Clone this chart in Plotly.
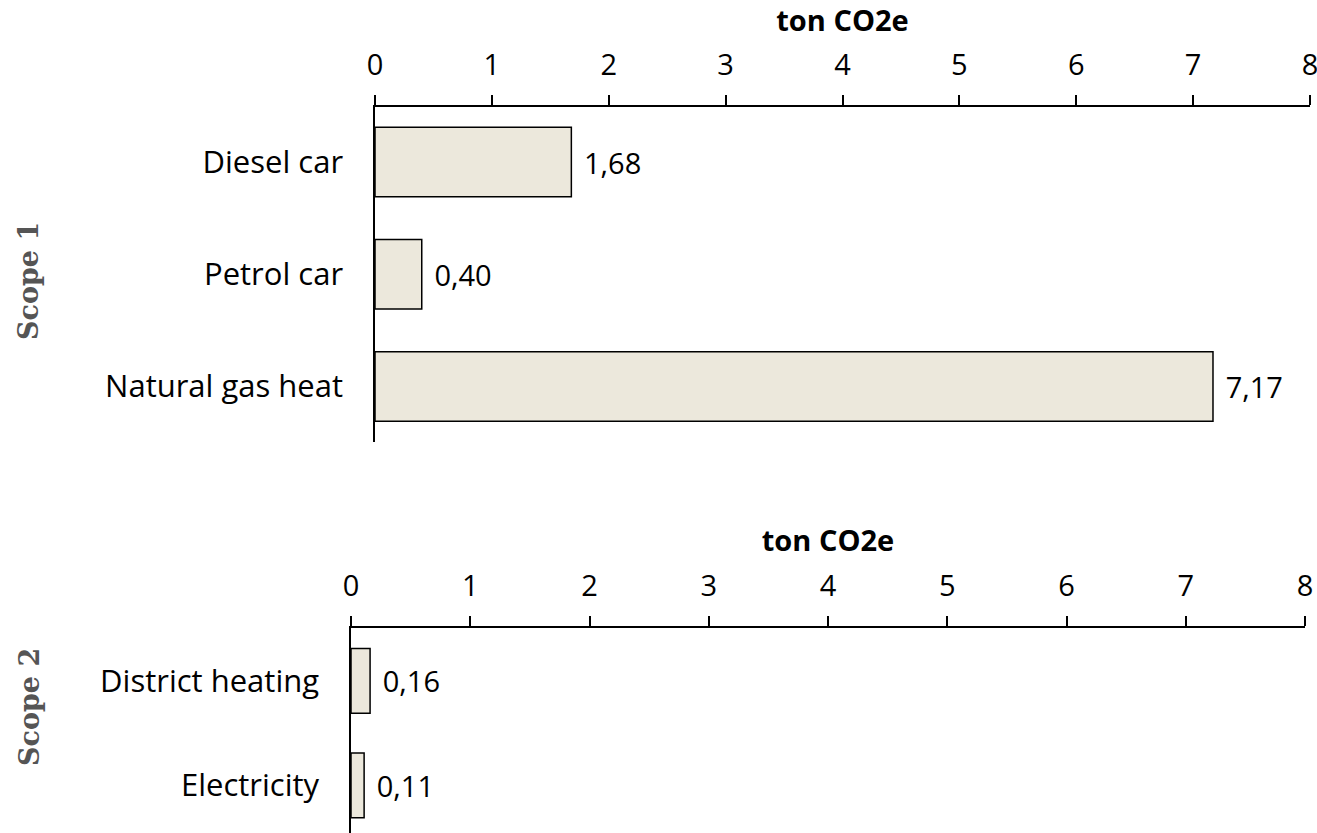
import plotly.graph_objects as go

scope1_cats = ["Diesel car", "Petrol car", "Natural gas heat"]
scope1_vals = [1.68, 0.40, 7.17]
scope2_cats = ["District heating", "Electricity"]
scope2_vals = [0.16, 0.11]
x_ticks = [0, 1, 2, 3, 4, 5, 6, 7, 8]
axis_title = "ton CO2e"
group_labels = ["Scope 1", "Scope 2"]

W, H = 1317, 833
FONT = "Open Sans"
BAR_COLOR = "#ECE8DC"
FS = 29

fig = go.Figure()

def bar(cats, vals, xa, ya):
    return go.Bar(
        y=cats, x=vals, orientation="h",
        xaxis=xa, yaxis=ya, width=0.62,
        marker=dict(color=BAR_COLOR, line=dict(color="black", width=1.5)),
        text=["\u2009\u2009" + f"{v:.2f}".replace(".", ",") for v in vals],
        textposition="outside", cliponaxis=False,
        textfont=dict(family=FONT, size=FS, color="black"),
        hoverinfo="skip",
    )

fig.add_trace(bar(scope1_cats, scope1_vals, "x", "y"))
fig.add_trace(bar(scope2_cats, scope2_vals, "x2", "y2"))

def xaxis_cfg(domain, anchor):
    return dict(
        domain=domain, anchor=anchor, side="top", range=[0, 8],
        tickvals=x_ticks, ticktext=[str(t) for t in x_ticks],
        showline=True, linecolor="black", linewidth=1.5,
        ticks="outside", ticklen=10, tickwidth=1.5, tickcolor="black",
        showgrid=False, zeroline=False, automargin=False,
        ticklabeloverflow="allow",
        tickfont=dict(family=FONT, size=FS, color="black"),
        ticklabelstandoff=9,
        title=dict(text="<b>" + axis_title + "</b>", font=dict(family=FONT, size=29, color="black"), standoff=5),
        fixedrange=True,
    )

def yaxis_cfg(domain, anchor, rng):
    return dict(
        domain=domain, anchor=anchor, type="category", range=rng,
        showline=True, linecolor="black", linewidth=1.5,
        ticks="", showgrid=False, zeroline=False, automargin=False,
        tickfont=dict(family=FONT, size=31, color="black"),
        ticklabelstandoff=24,
        fixedrange=True,
    )

fig.update_layout(
    width=W, height=H,
    margin=dict(l=0, r=0, t=0, b=0),
    paper_bgcolor="white", plot_bgcolor="white",
    showlegend=False,
    xaxis=xaxis_cfg([375 / W, 1310 / W], "y"),
    yaxis=yaxis_cfg([1 - 442 / H, 1 - 107 / H], "x", [2.494, -0.49]),
    xaxis2=xaxis_cfg([351 / W, 1305 / W], "y2"),
    yaxis2=yaxis_cfg([0, 1 - 628 / H], "x2", [1.455, -0.507]),
)

for label, ypx in zip(group_labels, [281, 707]):
    fig.add_annotation(
        text="<b>" + label + "</b>", xref="paper", yref="paper",
        x=29 / W, y=1 - ypx / H, showarrow=False, textangle=-90,
        font=dict(family="DejaVu Serif", size=27, color="#555555"),
        xanchor="center", yanchor="middle",
    )

fig.write_html("out.html", config={"displayModeBar": False},
               post_script="document.body.style.margin='0';")
